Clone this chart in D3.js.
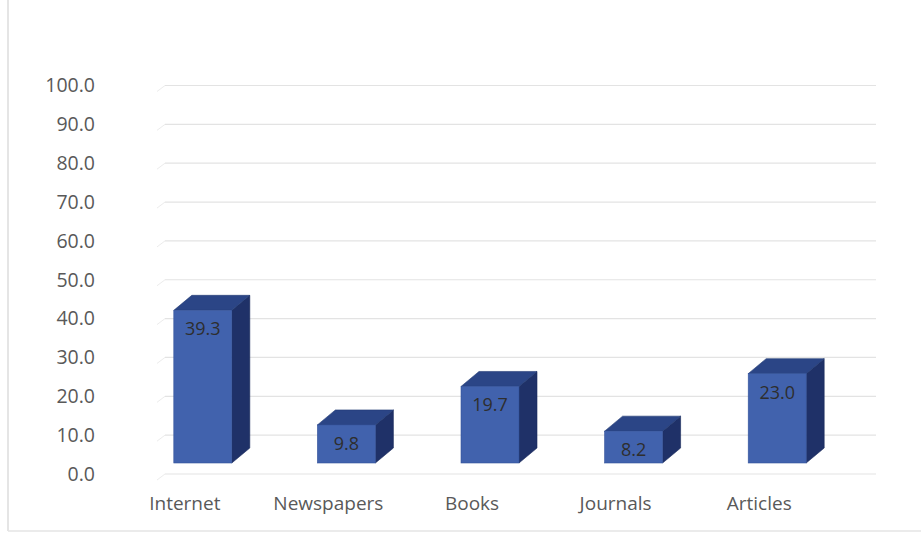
<!DOCTYPE html>
<html>
<head>
<meta charset="utf-8">
<script src="https://cdn.jsdelivr.net/npm/d3@7"></script>
<style>
  html, body { margin: 0; padding: 0; background: #ffffff; }
  svg { display: block; }
</style>
</head>
<body>
<svg id="chart" width="921" height="533"></svg>
<script>
// Source categories and their shares (%)
const categories = ["Internet", "Newspapers", "Books", "Journals", "Articles"];
const values = [39.3, 9.8, 19.7, 8.2, 23.0];
const yTicks = [0, 10, 20, 30, 40, 50, 60, 70, 80, 90, 100];

const svg = d3.select("#chart");
const W = 921, H = 533;

// Frame lines on the left and bottom edges
svg.append("line").attr("x1", 8).attr("x2", 8).attr("y1", 0).attr("y2", 531)
  .attr("stroke", "#dcdcdc").attr("stroke-width", 1.5);
svg.append("line").attr("x1", 8).attr("x2", W).attr("y1", 531).attr("y2", 531)
  .attr("stroke", "#e4e4e4").attr("stroke-width", 1.5);

const x = d3.scaleBand().domain(categories).range([113, 831]);
const y = d3.scaleLinear().domain([0, 100]).range([474, 85.5]);

// 3D projection of the column boxes
const depthX = 18, depthY = 15;   // receding depth
const frontDrop = 11;             // front plane sits below the back wall
const barW = 58;
const barShift = 18;              // columns sit right of the category centre

// Back-wall gridlines
const grid = svg.append("g");
yTicks.forEach(t => {
  grid.append("line")
    .attr("x1", 165).attr("x2", 876)
    .attr("y1", y(t)).attr("y2", y(t))
    .attr("stroke", "#e3e3e3").attr("stroke-width", 1.2);
  grid.append("line")
    .attr("x1", 157).attr("x2", 165)
    .attr("y1", y(t) + 6).attr("y2", y(t))
    .attr("stroke", "#ececec").attr("stroke-width", 1);
});

// Value axis labels
const yAxis = d3.axisLeft(y).tickValues(yTicks).tickFormat(d3.format(".1f")).tickSize(0).tickPadding(0);
const yg = svg.append("g").attr("transform", "translate(95,0)").call(yAxis);
yg.select(".domain").remove();
yg.selectAll("text")
  .attr("fill", "#595959")
  .style("font-family", "'Open Sans', 'Noto Sans', sans-serif")
  .style("font-size", "19.5px");

// Category axis labels
const xAxis = d3.axisBottom(x).tickSize(0).tickPadding(0);
const xg = svg.append("g").attr("transform", "translate(0,496)").call(xAxis);
xg.select(".domain").remove();
xg.selectAll("text")
  .attr("fill", "#595959")
  .style("font-family", "'Open Sans', 'Noto Sans', sans-serif")
  .style("font-size", "19px");

// Columns
const bars = svg.append("g").selectAll("g.bar")
  .data(categories.map((c, i) => ({ c, v: values[i] })))
  .join("g").attr("class", "bar");

bars.each(function(d) {
  const g = d3.select(this);
  const x0 = x(d.c) + x.bandwidth() / 2 + barShift - barW / 2;
  const x1 = x0 + barW;
  const top = y(d.v) - frontDrop;
  const bot = y(0) - frontDrop;

  // right side face
  g.append("path")
    .attr("d", `M${x1},${top} L${x1 + depthX},${top - depthY} L${x1 + depthX},${bot - depthY} L${x1},${bot} Z`)
    .attr("fill", "#1f3168").attr("stroke", "#1a2a5a").attr("stroke-width", 0.6);
  // top face
  g.append("path")
    .attr("d", `M${x0},${top} L${x0 + depthX},${top - depthY} L${x1 + depthX},${top - depthY} L${x1},${top} Z`)
    .attr("fill", "#2b4586").attr("stroke", "#223a74").attr("stroke-width", 0.6);
  // front face
  g.append("rect")
    .attr("x", x0).attr("y", top).attr("width", barW).attr("height", bot - top)
    .attr("fill", "#4162ad").attr("stroke", "#35549b").attr("stroke-width", 0.6);

  // value label
  g.append("text")
    .attr("x", x0 + barW / 2).attr("y", top + 18)
    .attr("text-anchor", "middle").attr("dominant-baseline", "central")
    .attr("fill", "#2e2e2e")
    .style("font-family", "'Open Sans', 'Noto Sans', sans-serif")
    .style("font-size", "18px")
    .text(d3.format(".1f")(d.v));
});
</script>
</body>
</html>
